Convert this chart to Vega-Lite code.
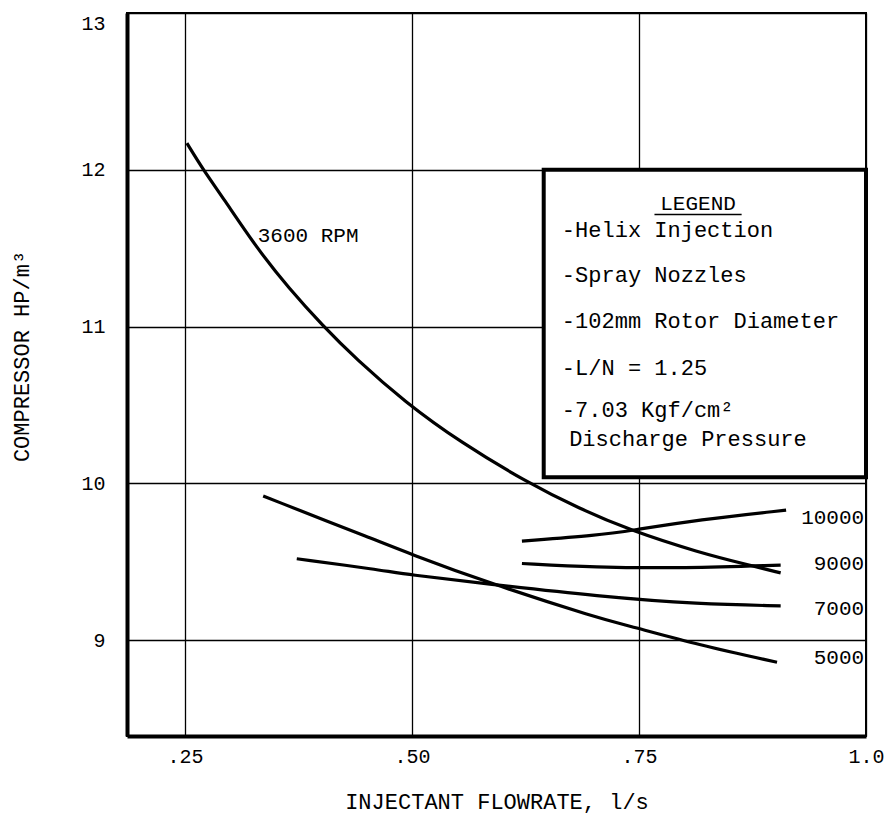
{
  "$schema": "https://vega.github.io/schema/vega-lite/v6.json",
  "width": 739,
  "height": 723,
  "autosize": "none",
  "padding": {"left": 127, "top": 13, "right": 21, "bottom": 80},
  "background": "white",
  "config": {
    "font": "Liberation Mono",
    "view": {"stroke": "black", "strokeWidth": 2},
    "axis": {
      "domainColor": "black",
      "domainWidth": 4,
      "ticks": false,
      "grid": true,
      "gridColor": "black",
      "gridWidth": 1.3,
      "gridOpacity": 1,
      "labelColor": "black",
      "labelFont": "Liberation Mono",
      "labelFontSize": 20,
      "titleColor": "black",
      "titleFont": "Liberation Mono",
      "titleFontSize": 22,
      "titleFontWeight": "normal"
    }
  },
  "datasets": {
    "curves": [
      {"series": "3600", "x": 0.252, "y": 12.17},
      {"series": "3600", "x": 0.270, "y": 12.0},
      {"series": "3600", "x": 0.292, "y": 11.82},
      {"series": "3600", "x": 0.329, "y": 11.50},
      {"series": "3600", "x": 0.365, "y": 11.24},
      {"series": "3600", "x": 0.401, "y": 11.01},
      {"series": "3600", "x": 0.439, "y": 10.79},
      {"series": "3600", "x": 0.492, "y": 10.52},
      {"series": "3600", "x": 0.554, "y": 10.26},
      {"series": "3600", "x": 0.626, "y": 10.01},
      {"series": "3600", "x": 0.684, "y": 9.84},
      {"series": "3600", "x": 0.741, "y": 9.70},
      {"series": "3600", "x": 0.816, "y": 9.56},
      {"series": "3600", "x": 0.871, "y": 9.48},
      {"series": "3600", "x": 0.906, "y": 9.43},
      {"series": "10000", "x": 0.621, "y": 9.633},
      {"series": "10000", "x": 0.706, "y": 9.67},
      {"series": "10000", "x": 0.741, "y": 9.70},
      {"series": "10000", "x": 0.816, "y": 9.77},
      {"series": "10000", "x": 0.912, "y": 9.83},
      {"series": "9000", "x": 0.621, "y": 9.49},
      {"series": "9000", "x": 0.700, "y": 9.465},
      {"series": "9000", "x": 0.800, "y": 9.46},
      {"series": "9000", "x": 0.906, "y": 9.48},
      {"series": "7000", "x": 0.373, "y": 9.52},
      {"series": "7000", "x": 0.464, "y": 9.45},
      {"series": "7000", "x": 0.494, "y": 9.42},
      {"series": "7000", "x": 0.582, "y": 9.36},
      {"series": "7000", "x": 0.706, "y": 9.28},
      {"series": "7000", "x": 0.816, "y": 9.23},
      {"series": "7000", "x": 0.906, "y": 9.22},
      {"series": "5000", "x": 0.336, "y": 9.92},
      {"series": "5000", "x": 0.464, "y": 9.63},
      {"series": "5000", "x": 0.494, "y": 9.56},
      {"series": "5000", "x": 0.582, "y": 9.37},
      {"series": "5000", "x": 0.706, "y": 9.14},
      {"series": "5000", "x": 0.741, "y": 9.09},
      {"series": "5000", "x": 0.816, "y": 8.97},
      {"series": "5000", "x": 0.902, "y": 8.86}
    ],
    "rightlabels": [
      {"text": "10000", "x": 0.998, "y": 9.74},
      {"text": "9000", "x": 0.998, "y": 9.45},
      {"text": "7000", "x": 0.998, "y": 9.16},
      {"text": "5000", "x": 0.998, "y": 8.85}
    ],
    "rpm": [{"text": "3600 RPM", "x": 0.330, "y": 11.54}],
    "box": [{"x": 0.645, "x2": 1.0, "y": 12.0, "y2": 10.04}],
    "legendtitle": [{"text": "LEGEND", "x": 0.815, "y": 11.747}],
    "underline": [{"x": 0.767, "x2": 0.863, "y": 11.715}],
    "legendlines": [
      {"text": "-Helix Injection", "x": 0.665, "y": 11.57},
      {"text": "-Spray Nozzles", "x": 0.665, "y": 11.285},
      {"text": "-102mm Rotor Diameter", "x": 0.665, "y": 10.99},
      {"text": "-L/N = 1.25", "x": 0.665, "y": 10.69},
      {"text": "-7.03 Kgf/cm²", "x": 0.665, "y": 10.425},
      {"text": "Discharge Pressure", "x": 0.673, "y": 10.24}
    ]
  },
  "encoding": {
    "x": {
      "field": "x",
      "type": "quantitative",
      "scale": {"domain": [0.186, 1.0], "nice": false, "zero": false},
      "axis": {
        "title": "INJECTANT FLOWRATE, l/s",
        "values": [0.25, 0.5, 0.75, 1.0],
        "labelExpr": "datum.value == 0.25 ? '.25' : datum.value == 0.5 ? '.50' : datum.value == 0.75 ? '.75' : '1.0'",
        "labelFlush": false,
        "labelPadding": 10,
        "titleY": 72,
        "titleBaseline": "alphabetic"
      }
    },
    "y": {
      "field": "y",
      "type": "quantitative",
      "scale": {"domain": [8.39, 13], "nice": false, "zero": false},
      "axis": {
        "title": "COMPRESSOR  HP/m³",
        "values": [9, 10, 11, 12, 13],
        "labelFlush": true,
        "labelPadding": 22,
        "titleAngle": -90,
        "titleX": -99,
        "titleY": 343,
        "titleAlign": "center",
        "titleBaseline": "alphabetic"
      }
    }
  },
  "layer": [
    {
      "data": {"name": "curves"},
      "mark": {"type": "line", "color": "black", "strokeWidth": 3.2, "interpolate": "basis"},
      "encoding": {"detail": {"field": "series", "type": "nominal"}}
    },
    {
      "data": {"name": "box"},
      "mark": {"type": "rect", "fill": "white", "stroke": "black", "strokeWidth": 4},
      "encoding": {
        "x2": {"field": "x2"},
        "y2": {"field": "y2"}
      }
    },
    {
      "data": {"name": "rightlabels"},
      "mark": {"type": "text", "align": "right", "baseline": "alphabetic", "fontSize": 21, "color": "black"},
      "encoding": {"text": {"field": "text"}}
    },
    {
      "data": {"name": "rpm"},
      "mark": {"type": "text", "align": "left", "baseline": "alphabetic", "fontSize": 21, "color": "black"},
      "encoding": {"text": {"field": "text"}}
    },
    {
      "data": {"name": "legendtitle"},
      "mark": {"type": "text", "align": "center", "baseline": "alphabetic", "fontSize": 21, "color": "black"},
      "encoding": {"text": {"field": "text"}}
    },
    {
      "data": {"name": "underline"},
      "mark": {"type": "rule", "color": "black", "strokeWidth": 1.5},
      "encoding": {"x2": {"field": "x2"}}
    },
    {
      "data": {"name": "legendlines"},
      "mark": {"type": "text", "align": "left", "baseline": "alphabetic", "fontSize": 22, "color": "black"},
      "encoding": {"text": {"field": "text"}}
    }
  ]
}
